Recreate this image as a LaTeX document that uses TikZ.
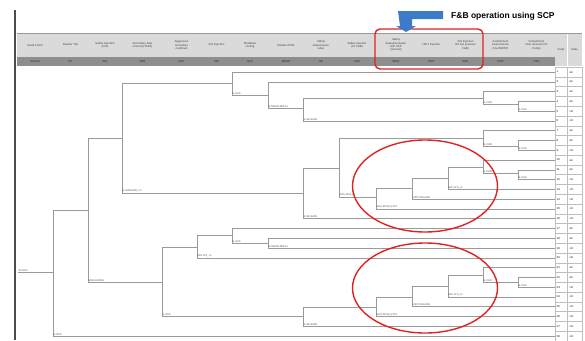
\documentclass[tikz,border=0pt]{standalone}
\usepackage{fontspec}
\setmainfont{Liberation Sans}
\usetikzlibrary{shapes.geometric,positioning}
\definecolor{treegray}{HTML}{9A9A9A}
\definecolor{hdrlight}{HTML}{DADADA}
\definecolor{hdrdark}{HTML}{8E8E8E}
\definecolor{markred}{HTML}{E02222}
\definecolor{arrowblue}{HTML}{3C7BC8}
\definecolor{labgray}{HTML}{505050}

\begin{document}
\begin{tikzpicture}[x=1pt, y=-1pt,
    tree/.style={draw=treegray, line width=0.6pt},
    brlab/.style={font=\fontsize{2.6}{3}\selectfont, text=labgray, anchor=south west, inner sep=0.5pt},
    hname/.style={font=\fontsize{2.8}{3.3}\selectfont, align=center, text=black!75},
    hcode/.style={font=\fontsize{2.8}{3.3}\selectfont, text=black!85},
    cell/.style={draw=black!25, line width=0.4pt},
    seqtxt/.style={font=\fontsize{2.8}{3.3}\selectfont, anchor=west, inner sep=0.5pt},
    marker/.style={draw=markred, line width=1.4pt}
]
    \useasboundingbox (0,0) rectangle (585,340);

    % left border
    \draw[black!70, line width=1.2pt] (15,10) -- (15,340);

    % header
    \foreach \xa/\xb/\hn/\hc [count=\k] in {
        17/53/{Small LOCA}/SLOCA,
        53/88/{Reactor Trip}/RT,
        88/122/{Safety Injection\\(C/S)}/SIS,
        122/163/{Secondary heat\\removal (TAFS)}/SHR,
        163/200/{Aggressive\\secondary\\cooldown}/ASC,
        200/233/{SIS Injection}/SDI,
        233/267/{Shutdown\\cooling}/SCS,
        267/305/{Member PMS}/MSHR,
        305/337/{Safety\\depressurize\\valve}/SE,
        337/377/{Safety injection\\(for F\&B)}/SAS,
        377/415/{Safety\\depressurization\\with SCP\\(manual)}/SDS1,
        415/448/{HSIT Injection}/HSIT,
        448/483/{SIS Injection\\(for low pressure\\F\&B)}/SDI1,
        483/518/{Containment\\heat removal\\(Via IRWST)}/CHR,
        518/555/{Containment\\heat removal (CS\\Pump)}/CSS}{
        \fill[hdrlight] (\xa,33) rectangle (\xb,57);
        \fill[hdrdark] (\xa,57) rectangle (\xb,66);
        \draw[white, line width=0.5pt] (\xb,33) -- (\xb,66);
        \node[hname] (h\k) at ({(\xa+\xb)/2},45) {\hn};
        \node[hcode] (c\k) at ({(\xa+\xb)/2},61.5) {\hc};
    }
    \fill[hdrlight] (555,33) rectangle (582,66);
    \draw[white, line width=0.5pt] (567,33) -- (567,66);
    \node[hname] (hseq) at (561,50) {Seq\#};
    \node[hname] (hstate) at (574.5,50) {State};
    \draw[black!40, line width=1pt] (17,33) -- (582,33);

    % sequence numbers and end states
    \foreach \st [count=\i] in {ok,ok,ok,ok,cd,cd,ok,ok,cd,ok,ok,cd,cd,cd,
                               cd,cd,ok,ok,cd,cd,ok,ok,cd,cd,cd,cd,cd,cd}{
        \pgfmathsetmacro\ry{72+(\i-1)*9.78}
        \draw[cell] (555,\ry-4.89) rectangle (567,\ry+4.89);
        \draw[cell] (567,\ry-4.89) rectangle (582,\ry+4.89);
        \node[seqtxt] (s\i) at (556,\ry) {\i};
        \node[seqtxt] (t\i) at (569,\ry) {\st};
    }

    % branch points
    \foreach \n/\x/\yu/\yd/\lab in {
        A/53/210/336/{S-RPS},
        B/88/138/282/{SMS-ADDSH},
        C/122/83/193/{S-SHR-MAN\_L1},
        D/232/72/95/{S-SCS},
        E/268/81.8/108/{S-MSHR-REFILL},
        F/303/98/120.9/{S-SE-SAFE},
        G/483/91.6/104/{S-CHR},
        H/518/101.3/111.1/{S-CSS},
        M1/303/168/218.7/{S-SE-SAFE},
        M2/339/138/197/{SAS-ADS\_L1},
        M3/483/130.7/146/{S-CHR},
        M4/518/140.5/150.2/{S-CSS},
        M5/376/188/208.9/{SAS-RCS(V)-VP1},
        M6/412/178/199.1/{HSIT-FAILURE},
        M7/448/167/189.4/{SDI-LTS\_L1},
        M8/483/160/173/{S-CHR},
        M9/518/169.8/179.6/{S-CSS},
        N1/162/247/316/{S-ASC},
        N2/197/235/257.8/{SDI-LTS\_L1},
        N3/232/228.5/243/{S-SCS},
        N4/268/238.3/248/{S-MSHR-REFILL},
        N5/303/307/326.3/{S-SE-SAFE},
        N6/376/297/316.5/{SAS-RCS(V)-VP1},
        N7/412/286/306.7/{HSIT-FAILURE},
        N8/448/275/297/{SDI-LTS\_L1},
        N9/483/267.6/282/{S-CHR},
        N10/518/277.4/287.2/{S-CSS}}{
        \coordinate (u\n) at (\x,\yu);
        \coordinate (d\n) at (\x,\yd);
        \draw[tree] (u\n) -- (d\n);
        \node[brlab] (l\n) at (d\n) {\lab};
    }

    % initiating event
    \coordinate (ie) at (18,272);
    \node[brlab] (lie) at (ie) {SLOCA};
    \draw[tree] (ie) -- (ie -| uA);

    % branch to branch
    \foreach \p/\c in {uA/B, uB/C, dB/N1, uC/D, dC/M1, dD/E, dE/F, uF/G, dG/H,
                       uM1/M2, uM2/M3, dM2/M5, dM3/M4, uM5/M6, uM6/M7, uM7/M8, dM8/M9,
                       uN1/N2, dN1/N5, uN2/N3, dN3/N4, uN5/N6, uN6/N7, uN7/N8, uN8/N9, dN9/N10}
        \draw[tree] (\p) -- (\p -| u\c);

    % branch to end state
    \coordinate (tend) at (555,72);
    \foreach \p in {dA, uD, uE, dF, uG, uH, dH, dM1, uM3, uM4, dM4, dM5, dM6, dM7,
                    uM8, uM9, dM9, dN2, uN3, uN4, dN4, dN5, dN6, dN7, dN8, uN9, uN10, dN10}
        \draw[tree] (\p) -- (\p -| tend);

    % highlights
    \node[marker, ellipse, minimum width=145, minimum height=92] (loopa) at (425,186) {};
    \node[marker, ellipse, minimum width=145, minimum height=90] (loopb) at (425,288) {};
    \node[marker, rounded corners=5pt, minimum width=108, minimum height=40] (fbbox) at (429,49) {};

    \fill[arrowblue] (398,11) -- (443,11) -- (443,19) -- (412,19) -- (412,26)
        -- (416,26) -- (406,32) -- (396,26) -- (400,26) -- cycle;
    \node[font=\bfseries\fontsize{8.5}{10}\selectfont, anchor=west, inner sep=0pt] (fbtitle) at (451,16) {F\&B operation using SCP};
\end{tikzpicture}
\end{document}
